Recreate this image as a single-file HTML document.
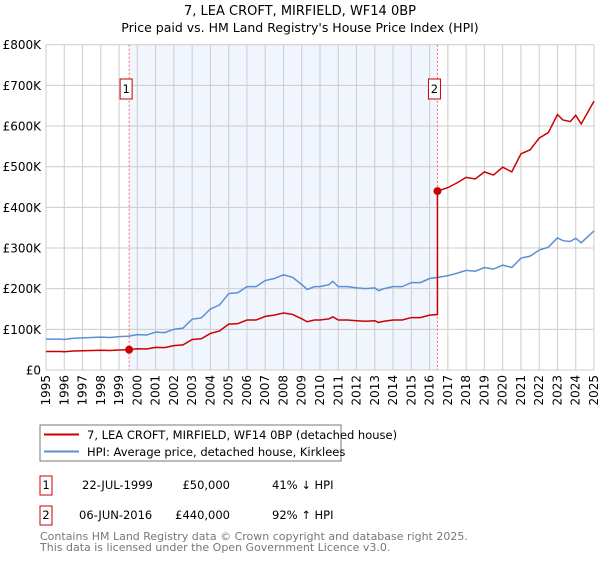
<!DOCTYPE html>
<html><head><meta charset="utf-8"><style>
body{margin:0;background:#fff;font-family:"Liberation Sans","DejaVu Sans",sans-serif;}
svg text{font-family:"DejaVu Sans","Liberation Sans",sans-serif;}
</style></head><body>
<svg id="c" width="600" height="560" xmlns="http://www.w3.org/2000/svg">
<text x="300" y="15" text-anchor="middle" font-size="13">7, LEA CROFT, MIRFIELD, WF14 0BP</text>
<text x="300" y="32" text-anchor="middle" font-size="12.5">Price paid vs. HM Land Registry's House Price Index (HPI)</text>
<g id="grid"></g><g id="marks"></g>
<g>
<rect x="40" y="425" width="301" height="36" fill="#fff" stroke="#777"/>
<line x1="44" y1="434.5" x2="79" y2="434.5" stroke="#cc0000" stroke-width="2"/>
<text x="87" y="439" font-size="11.5">7, LEA CROFT, MIRFIELD, WF14 0BP (detached house)</text>
<line x1="44" y1="451.5" x2="79" y2="451.5" stroke="#5b8fd4" stroke-width="2"/>
<text x="87" y="456" font-size="11.5">HPI: Average price, detached house, Kirklees</text>
</g>
<g font-size="11.5">
<rect x="40" y="476" width="12" height="19" fill="#fff" stroke="#cc0000"/><text x="46" y="489" text-anchor="middle">1</text>
<text x="82" y="489">22-JUL-1999</text><text x="230" y="489" text-anchor="end">£50,000</text><text x="272" y="489">41% ↓ HPI</text>
<rect x="40" y="506" width="12" height="19" fill="#fff" stroke="#cc0000"/><text x="46" y="519" text-anchor="middle">2</text>
<text x="79" y="519">06-JUN-2016</text><text x="230" y="519" text-anchor="end">£440,000</text><text x="272" y="519">92% ↑ HPI</text>
</g>
<text x="40" y="540" font-size="11" fill="#777">Contains HM Land Registry data © Crown copyright and database right 2025.</text>
<text x="40" y="551" font-size="11" fill="#777">This data is licensed under the Open Government Licence v3.0.</text>
</svg>
<script>
const hpiYears=[1995,1995.8,1996,1996.5,1997,1998,1998.5,1999,1999.5,2000,2000.5,2001,2001.5,2002,2002.5,2003,2003.5,2004,2004.5,2005,2005.5,2006,2006.5,2007,2007.5,2008,2008.5,2009,2009.3,2009.7,2010,2010.5,2010.7,2011,2011.5,2012,2012.5,2013,2013.2,2013.5,2014,2014.5,2015,2015.5,2016,2016.5,2017,2017.5,2018,2018.5,2019,2019.5,2020,2020.5,2021,2021.5,2022,2022.5,2023,2023.3,2023.7,2024,2024.3,2025];
const hpiValues=[76,76,75,78,79,81,80,82,83,87,86,93,92,100,103,125,128,150,160,188,190,205,205,220,225,234,228,210,198,205,205,210,218,205,205,202,200,202,195,200,205,205,215,215,225,228,232,238,245,243,252,248,258,252,275,280,295,302,325,318,316,324,313,342];
const saleDates=[1999.55,2016.43];
const salePrices=[50,440];
const yTicks=[0,100,200,300,400,500,600,700,800];
const yTickLabels=["£0","£100K","£200K","£300K","£400K","£500K","£600K","£700K","£800K"];
const xTicks=[1995,1996,1997,1998,1999,2000,2001,2002,2003,2004,2005,2006,2007,2008,2009,2010,2011,2012,2013,2014,2015,2016,2017,2018,2019,2020,2021,2022,2023,2024,2025];
const X0=46,X1=594,Y0=370,Y1=44.7;
const xs=t=>X0+(t-1995)/30*(X1-X0), ys=v=>Y0-v/800*(Y0-Y1);
const NS="http://www.w3.org/2000/svg";
function mk(tag,attrs,parent){const e=document.createElementNS(NS,tag);for(const k in attrs)e.setAttribute(k,attrs[k]);parent.appendChild(e);return e;}
const grid=document.getElementById('grid'),marks=document.getElementById('marks');
const sh=mk('rect',{x:xs(saleDates[0]),y:Y1,width:xs(saleDates[1])-xs(saleDates[0]),height:Y0-Y1,fill:'#eef3fc',opacity:0.8},grid);


xTicks.forEach(t=>{
 const l=mk('line',{x1:xs(t),x2:xs(t),y1:Y1,y2:Y0,stroke:'#ccc'},grid);
 
 
 const tx=mk('text',{x:0,y:0,'font-size':12,'text-anchor':'end',transform:`translate(${xs(t)+4},${Y0+5}) rotate(-90)`},grid);
 tx.textContent=t;
 
 
});
yTicks.forEach((v,i)=>{
 const l=mk('line',{x1:X0,x2:X1,y1:ys(v),y2:ys(v),stroke:'#ccc'},grid);
 
 
 const tx=mk('text',{x:X0-5,y:ys(v)+4.5,'font-size':12,'text-anchor':'end'},grid);
 tx.textContent=yTickLabels[i];
 
 
});
saleDates.forEach((d,i)=>{
 const l=mk('line',{x1:xs(d),x2:xs(d),y1:Y1,y2:Y0,stroke:'#f07070','stroke-dasharray':'2,2'},marks);
 
 
 const r=mk('rect',{x:xs(d)-9,y:79,width:12,height:20,fill:'#fff',stroke:'#cc0000'},marks);
 
 
 const t=mk('text',{x:xs(d)-3,y:93,'font-size':11.5,'text-anchor':'middle'},marks);
 t.textContent=i+1;
 
 
});
function hpiAt(d){for(let i=1;i<hpiYears.length;i++){if(hpiYears[i]>=d){const f=(d-hpiYears[i-1])/(hpiYears[i]-hpiYears[i-1]);return hpiValues[i-1]+f*(hpiValues[i]-hpiValues[i-1]);}}return hpiValues[hpiValues.length-1];}
const hp=mk('polyline',{points:hpiYears.map((t,i)=>xs(t)+','+ys(hpiValues[i])).join(' '),fill:'none',stroke:'#5b8fd4','stroke-width':1.5},marks);


const r0=salePrices[0]/hpiAt(saleDates[0]),r1=salePrices[1]/hpiAt(saleDates[1]);
let pts=[];
hpiYears.forEach((t,i)=>{if(t<saleDates[1])pts.push([t,hpiValues[i]*r0]);});
pts.push([saleDates[1],hpiAt(saleDates[1])*r0]);
pts.push([saleDates[1],salePrices[1]]);
hpiYears.forEach((t,i)=>{if(t>saleDates[1])pts.push([t,hpiValues[i]*r1]);});
const pl=mk('polyline',{points:pts.map(p=>xs(p[0])+','+ys(p[1])).join(' '),fill:'none',stroke:'#cc0000','stroke-width':1.5},marks);


saleDates.forEach((d,i)=>{
 const c=mk('circle',{cx:xs(d),cy:ys(salePrices[i]),r:4,fill:'#cc0000'},marks);
 
 
});
</script>
</body></html>
